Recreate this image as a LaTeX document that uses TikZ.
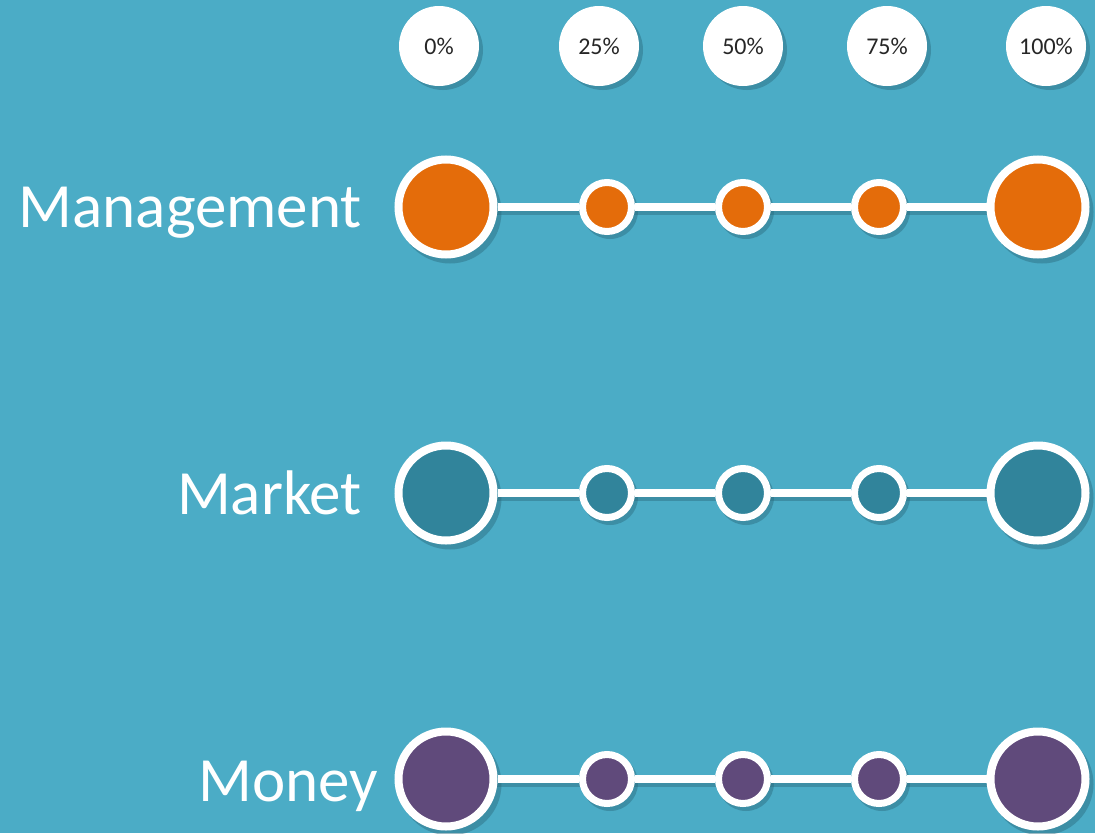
\documentclass[tikz,border=0pt]{standalone}
\usepackage{fontspec}
\setmainfont{Carlito}
\definecolor{bgc}{HTML}{4BACC6}
\definecolor{orng}{HTML}{E46C0A}
\definecolor{teal}{HTML}{31849B}
\definecolor{purp}{HTML}{604A7B}
\definecolor{dtxt}{HTML}{262626}
\definecolor{shd}{HTML}{2A6B7E}
\tikzset{
  pct/.style={circle, fill=white, minimum size=80pt, inner sep=0pt, font=\fontsize{24}{24}\selectfont, text=dtxt},
  bigdot/.style={circle, draw=white, line width=8pt, minimum size=95pt, inner sep=0pt},
  smalldot/.style={circle, draw=white, line width=7pt, minimum size=49pt, inner sep=0pt},
  bar/.style={white, line width=8pt},
  rowlabel/.style={anchor=base east, text=white, font=\fontsize{63}{63}\selectfont, inner sep=0pt},
  shadowc/.style={fill=shd, opacity=0.45},
}
\begin{document}
\begin{tikzpicture}[x=1pt, y=-1pt]
\fill[bgc] (0,0) rectangle (1095,833);
\useasboundingbox (0,0) rectangle (1095,833);
% percentage header shadows
\foreach \x in {439,599,743,887,1046}{
  \fill[shadowc] (\x+4,50) circle (40);
}
\node[pct] (p0) at (439,46) {0\%};
\node[pct] (p25) at (599,46) {25\%};
\node[pct] (p50) at (743,46) {50\%};
\node[pct] (p75) at (887,46) {75\%};
\node[pct] (p100) at (1046,46) {100\%};
% rows
\foreach \y/\c/\n in {207/orng/a, 493/teal/b, 779/purp/c}{
  \fill[shadowc] (450,\y+4) -- (1040,\y+4) -- (1040,\y+8) -- (450,\y+8) -- cycle;
  \foreach \x in {446,1038}{ \fill[shadowc] (\x+4,\y+5) circle (51.5); }
  \foreach \x in {607,743,879}{ \fill[shadowc] (\x+3,\y+4) circle (28); }
  \node[bigdot, fill=\c] (\n1) at (446,\y) {};
  \node[smalldot, fill=\c] (\n2) at (607,\y) {};
  \node[smalldot, fill=\c] (\n3) at (743,\y) {};
  \node[smalldot, fill=\c] (\n4) at (879,\y) {};
  \node[bigdot, fill=\c] (\n5) at (1038,\y) {};
  \draw[bar] (\n1.east) -- (\n2.west);
  \draw[bar] (\n2.east) -- (\n3.west);
  \draw[bar] (\n3.east) -- (\n4.west);
  \draw[bar] (\n4.east) -- (\n5.west);
}
\node[rowlabel] (lm) at (362,227) {Management};
\node[rowlabel] (lk) at (362,514) {Market};
\node[rowlabel] (ly) at (378,801) {Money};
\end{tikzpicture}
\end{document}
